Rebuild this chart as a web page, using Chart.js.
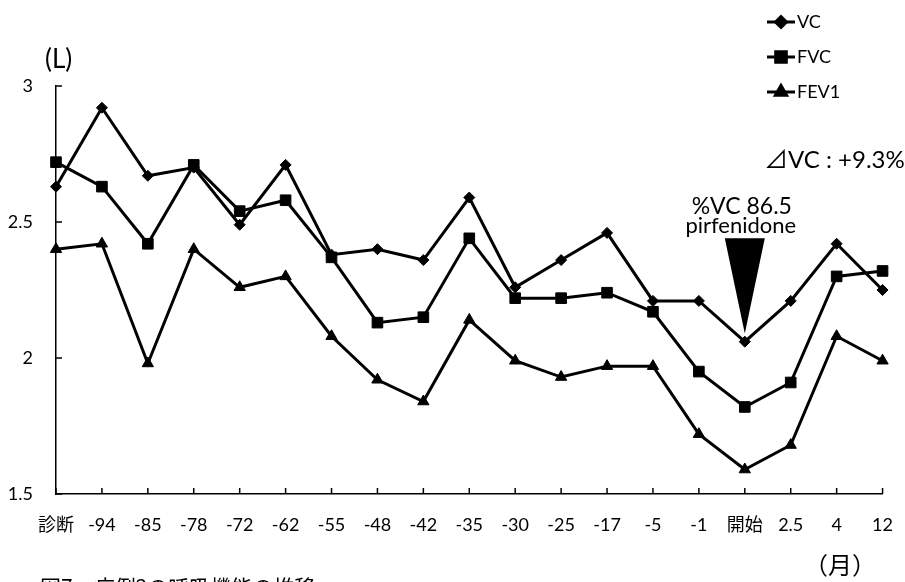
<!DOCTYPE html>
<html>
<head>
<meta charset="utf-8">
<script src="https://cdn.jsdelivr.net/npm/chart.js@4"></script>
<style>
  html, body { margin: 0; padding: 0; background: #fff; }
</style>
</head>
<body>
<canvas id="lungChart" width="905" height="582"></canvas>
<script>
const LABEL_FONT = "Lato, 'Noto Sans CJK JP', sans-serif";

// months from treatment start (診断 = diagnosis, 開始 = start)
const categories = ["診断", "-94", "-85", "-78", "-72", "-62", "-55", "-48", "-42", "-35",
    "-30", "-25", "-17", "-5", "-1", "開始", "2.5", "4", "12"];

const vcValues = [2.63, 2.92, 2.67, 2.70, 2.49, 2.71, 2.38, 2.40, 2.36, 2.59,
    2.26, 2.36, 2.46, 2.21, 2.21, 2.06, 2.21, 2.42, 2.25];
const fvcValues = [2.72, 2.63, 2.42, 2.71, 2.54, 2.58, 2.37, 2.13, 2.15, 2.44,
    2.22, 2.22, 2.24, 2.17, 1.95, 1.82, 1.91, 2.30, 2.32];
const fev1Values = [2.40, 2.42, 1.98, 2.40, 2.26, 2.30, 2.08, 1.92, 1.84, 2.14,
    1.99, 1.93, 1.97, 1.97, 1.72, 1.59, 1.68, 2.08, 1.99];

const yMin = 1.5;
const yMax = 3;
const yStep = 0.5;

// pirfenidone marker (arrow drawn at the start category)
const arrowCategory = "開始";
const arrowTop = 2.44;
const arrowTip = 2.09;

function makeDataset(label, values, style, radius) {
    return {
        label: label,
        data: values,
        borderColor: "#000",
        backgroundColor: "#000",
        borderWidth: 3,
        pointStyle: style,
        pointRadius: radius,
        pointHoverRadius: radius,
        pointBorderWidth: 1,
        tension: 0,
        clip: false,
    };
}

const extrasPlugin = {
    id: "extras",
    afterDraw(chart) {
        let ctx = chart.ctx;
        let xs = chart.scales.x;
        let ys = chart.scales.y;
        ctx.save();

        // tick marks pointing into the plot
        ctx.strokeStyle = "#000";
        ctx.lineWidth = 1.5;
        xs.ticks.forEach((t, i) => {
            let px = xs.getPixelForTick(i);
            ctx.beginPath();
            ctx.moveTo(px, ys.bottom);
            ctx.lineTo(px, ys.bottom - 6);
            ctx.stroke();
        });
        ys.ticks.forEach((t, i) => {
            let py = ys.getPixelForTick(i);
            ctx.beginPath();
            ctx.moveTo(xs.left, py);
            ctx.lineTo(xs.left + 6, py);
            ctx.stroke();
        });

        ctx.fillStyle = "#000";

        // unit label
        ctx.font = "26px " + LABEL_FONT;
        ctx.textAlign = "left";
        ctx.textBaseline = "middle";
        ctx.fillText("(L)", 45, 60);

        // legend
        chart.data.datasets.forEach((ds, i) => {
            let cy = 22 + i * 35;
            ctx.strokeStyle = "#000";
            ctx.lineWidth = 3;
            ctx.beginPath();
            ctx.moveTo(767, cy);
            ctx.lineTo(795, cy);
            ctx.stroke();
            Chart.helpers.drawPoint(ctx, {
                pointStyle: ds.pointStyle,
                radius: ds.pointRadius,
                borderWidth: 1,
                rotation: 0,
            }, 781, cy);
            ctx.fill();
            ctx.font = "18px " + LABEL_FONT;
            ctx.textAlign = "left";
            ctx.fillText(ds.label, 797, cy);
        });

        // delta annotation
        ctx.font = "24px " + LABEL_FONT;
        ctx.textAlign = "left";
        ctx.fillText("⊿VC : +9.3%", 764, 160);

        // pirfenidone arrow
        let ax = xs.getPixelForValue(categories.indexOf(arrowCategory));
        let topY = ys.getPixelForValue(arrowTop);
        let tipY = ys.getPixelForValue(arrowTip);
        ctx.beginPath();
        ctx.moveTo(ax - 20, topY);
        ctx.lineTo(ax + 20, topY);
        ctx.lineTo(ax, tipY);
        ctx.closePath();
        ctx.fill();

        ctx.textAlign = "center";
        ctx.font = "23px " + LABEL_FONT;
        ctx.fillText("%VC 86.5", ax - 3, topY - 32);
        ctx.font = "22px " + LABEL_FONT;
        ctx.fillText("pirfenidone", ax - 4, topY - 12);

        // month unit and caption
        ctx.font = "24px 'Noto Sans CJK JP', sans-serif";
        ctx.textAlign = "left";
        ctx.fillText("（月）", 804, 565);
        ctx.font = "21px 'Noto Sans CJK JP', sans-serif";
        ctx.textBaseline = "top";
        ctx.fillText("図7　症例2の呼吸機能の推移", 40, 577);

        ctx.restore();
    },
};

const config = {
    type: "line",
    data: {
        labels: categories,
        datasets: [
            makeDataset("VC", vcValues, "rectRot", 5.5),
            makeDataset("FVC", fvcValues, "rect", 7.5),
            makeDataset("FEV1", fev1Values, "triangle", 6.5),
        ],
    },
    options: {
        responsive: false,
        animation: false,
        events: [],
        layout: {
            padding: { top: 86, right: 15, bottom: 38, left: 0 },
        },
        plugins: {
            legend: { display: false },
            tooltip: { enabled: false },
        },
        scales: {
            x: {
                offset: false,
                grid: { display: false },
                border: { display: true, color: "#000", width: 1.5 },
                ticks: {
                    color: "#000",
                    padding: 12,
                    maxRotation: 0,
                    autoSkip: false,
                    font: { family: LABEL_FONT, size: 18 },
                },
                afterFit: (scale) => { scale.height = 50; },
            },
            y: {
                min: yMin,
                max: yMax,
                grid: { display: false },
                border: { display: true, color: "#000", width: 1.5 },
                ticks: {
                    stepSize: yStep,
                    color: "#000",
                    padding: 15,
                    font: { family: LABEL_FONT, size: 18 },
                    callback: (value) => String(value),
                },
                afterFit: (scale) => { scale.width = 56; },
            },
        },
    },
    plugins: [extrasPlugin],
};

new Chart(document.getElementById("lungChart").getContext("2d"), config);
</script>
</body>
</html>
